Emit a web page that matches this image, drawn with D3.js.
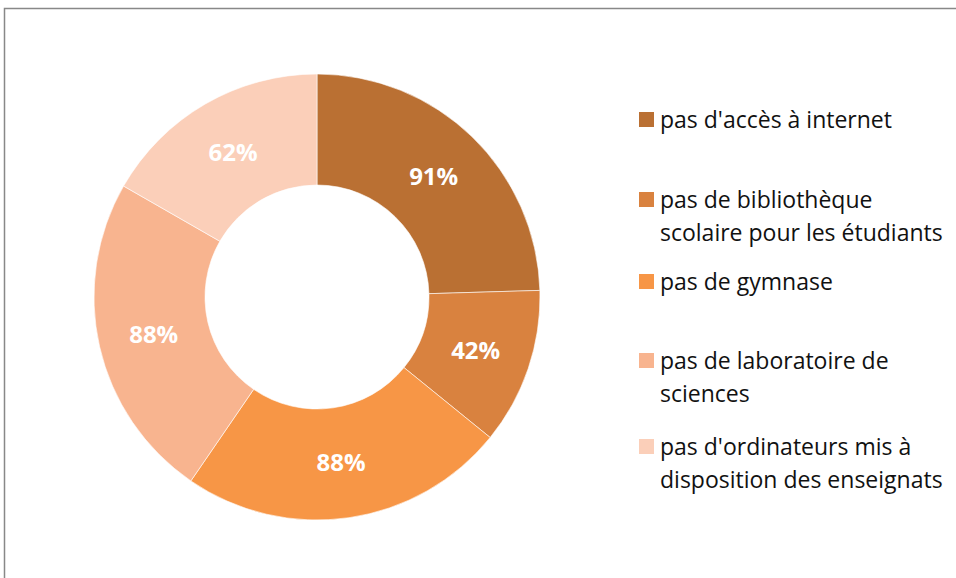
<!DOCTYPE html>
<html>
<head>
<meta charset="utf-8">
<script src="https://cdn.jsdelivr.net/npm/d3@7"></script>
<style>
  body { margin: 0; background: #fff; }
  svg { display: block; font-family: "Open Sans", "Noto Sans", sans-serif; }
</style>
</head>
<body>
<div id="chart"></div>
<script>
const categories = [
  ["pas d'accès à internet"],
  ["pas de bibliothèque", "scolaire pour les étudiants"],
  ["pas de gymnase"],
  ["pas de laboratoire de", "sciences"],
  ["pas d'ordinateurs mis à", "disposition des enseignats"]
];
const values = [91, 42, 88, 88, 62];
const colors = ["#BA7033", "#D9823F", "#F79646", "#F8B48F", "#FBCFB9"];
const legendY = [120, 200, 282, 361, 447];

const W = 956, H = 578;
const cx = 317, cy = 297, rOut = 223, rIn = 112;

const svg = d3.select("#chart").append("svg")
  .attr("width", W)
  .attr("height", H);

// frame (cut off at right and bottom like the reference)
svg.append("rect")
  .attr("x", 4.5).attr("y", 8.5)
  .attr("width", W + 10).attr("height", H + 10)
  .attr("fill", "none")
  .attr("stroke", "#888")
  .attr("stroke-width", 1.5);

const pie = d3.pie().sort(null).value(d => d);
const arc = d3.arc().innerRadius(rIn).outerRadius(rOut);
const arcs = pie(values);

const g = svg.append("g").attr("transform", `translate(${cx},${cy})`);

g.selectAll("path")
  .data(arcs)
  .enter().append("path")
  .attr("d", arc)
  .attr("fill", (d, i) => colors[i])
  .attr("stroke", "#fff")
  .attr("stroke-width", 0.6);

g.selectAll("text")
  .data(arcs)
  .enter().append("text")
  .attr("transform", d => `translate(${arc.centroid(d)})`)
  .attr("text-anchor", "middle")
  .attr("dy", "0.36em")
  .attr("fill", "#fff")
  .attr("font-weight", "bold")
  .attr("font-size", 24)
  .text(d => d.data + "%");

// legend
const legend = svg.append("g");
const items = legend.selectAll("g")
  .data(categories)
  .enter().append("g")
  .attr("transform", (d, i) => `translate(639,${legendY[i]})`);

items.append("rect")
  .attr("x", 0).attr("y", -8)
  .attr("width", 15).attr("height", 15)
  .attr("fill", (d, i) => colors[i]);

items.append("text")
  .attr("x", 21)
  .attr("y", 8)
  .attr("font-size", 23)
  .attr("fill", "#111")
  .selectAll("tspan")
  .data(d => d)
  .enter().append("tspan")
  .attr("x", 21)
  .attr("dy", (d, i) => i === 0 ? 0 : 32.5)
  .text(d => d);
</script>
</body>
</html>
